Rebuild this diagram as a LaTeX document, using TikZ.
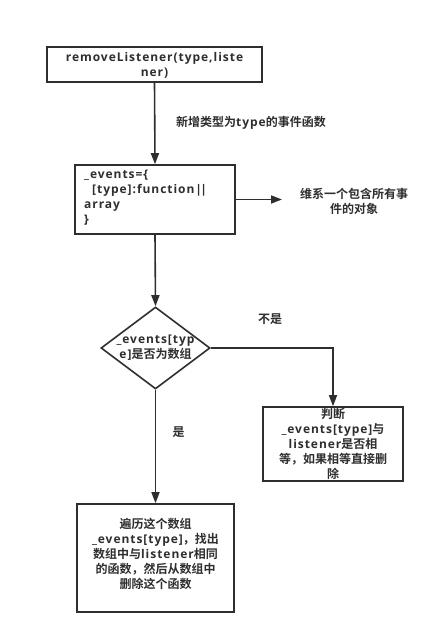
\documentclass[tikz,border=0pt]{standalone}
\usepackage{fontspec}
\setmainfont{Open Sans}[LetterSpace=8]
\newfontfamily\cjk{Noto Sans CJK SC}[BoldFont={* Bold}]
\newcommand{\zh}[1]{{\cjk\bfseries #1}}
\usetikzlibrary{shapes.geometric,arrows.meta}
\definecolor{ink}{HTML}{2E2E2E}
\begin{document}
\begin{tikzpicture}[x=1pt,y=-1pt,
  every node/.style={font=\bfseries\fontsize{12}{15}\selectfont, text=ink},
  box/.style={draw=ink, line width=1.6pt, rectangle, inner sep=0pt},
  txt/.style={align=center, inner sep=0pt},
  conn/.style={draw=ink, line width=1.6pt, -{Triangle[length=11pt,width=8pt]}},
  plain/.style={draw=ink, line width=1.6pt}]
\useasboundingbox (0,0) rectangle (446,644);
% boxes
\node[box, minimum width=215pt, minimum height=35pt] (b1) at (154.5,64.5) {};
\node[txt] (t1) at (154.5,65) {removeListener(type,liste\\ner)};
\node[box, minimum width=160pt, minimum height=69pt] (b2) at (155,199.5) {};
\node[txt, align=left, anchor=north west] (t2) at (84,170) {\_events=\{\\\hspace*{8pt}[type]:function|\kern-1.8pt|\\array\\\}};
\node[box, diamond, minimum width=109pt, minimum height=82pt] (d) at (155.5,348) {};
\node[txt] (td) at (155.5,348) {\_events[typ\\e]\zh{是否为数组}};
\node[box, minimum width=140pt, minimum height=74pt] (b4) at (333,444) {};
\node[txt] (t4) at (333,444) {\zh{判断}\\\_events[type]\zh{与}\\listener\zh{是否相}\\\zh{等，如果相等直接删}\\\zh{除}};
\node[box, minimum width=157pt, minimum height=108pt] (b5) at (155.5,558) {};
\node[txt] (t5) at (155.5,553.5) {\zh{遍历这个数组}\\\_events[type]\zh{，找出}\\\zh{数组中与}listener\zh{相同}\\\zh{的函数，然后从数组中}\\\zh{删除这个函数}};
% labels
\node[txt, anchor=west] (l1) at (176,123) {\zh{新增类型为}type\zh{的事件函数}};
\node[txt] (l2) at (354,201) {\zh{维系一个包含所有事}\\\zh{件的对象}};
\node[txt] (l3) at (270,319) {\zh{不是}};
\node[txt] (l4) at (178.5,432) {\zh{是}};
% connectors
\coordinate (e2) at (282,199.5);
\draw[conn] (b1.south) -- (b2.north);
\draw[conn] (b2.east) -- (e2);
\draw[conn] (b2.south) -- (d.north);
\draw[conn] (d.east) -| (b4.north);
\draw[conn] (d.south) -- (b5.north);
\end{tikzpicture}
\end{document}
